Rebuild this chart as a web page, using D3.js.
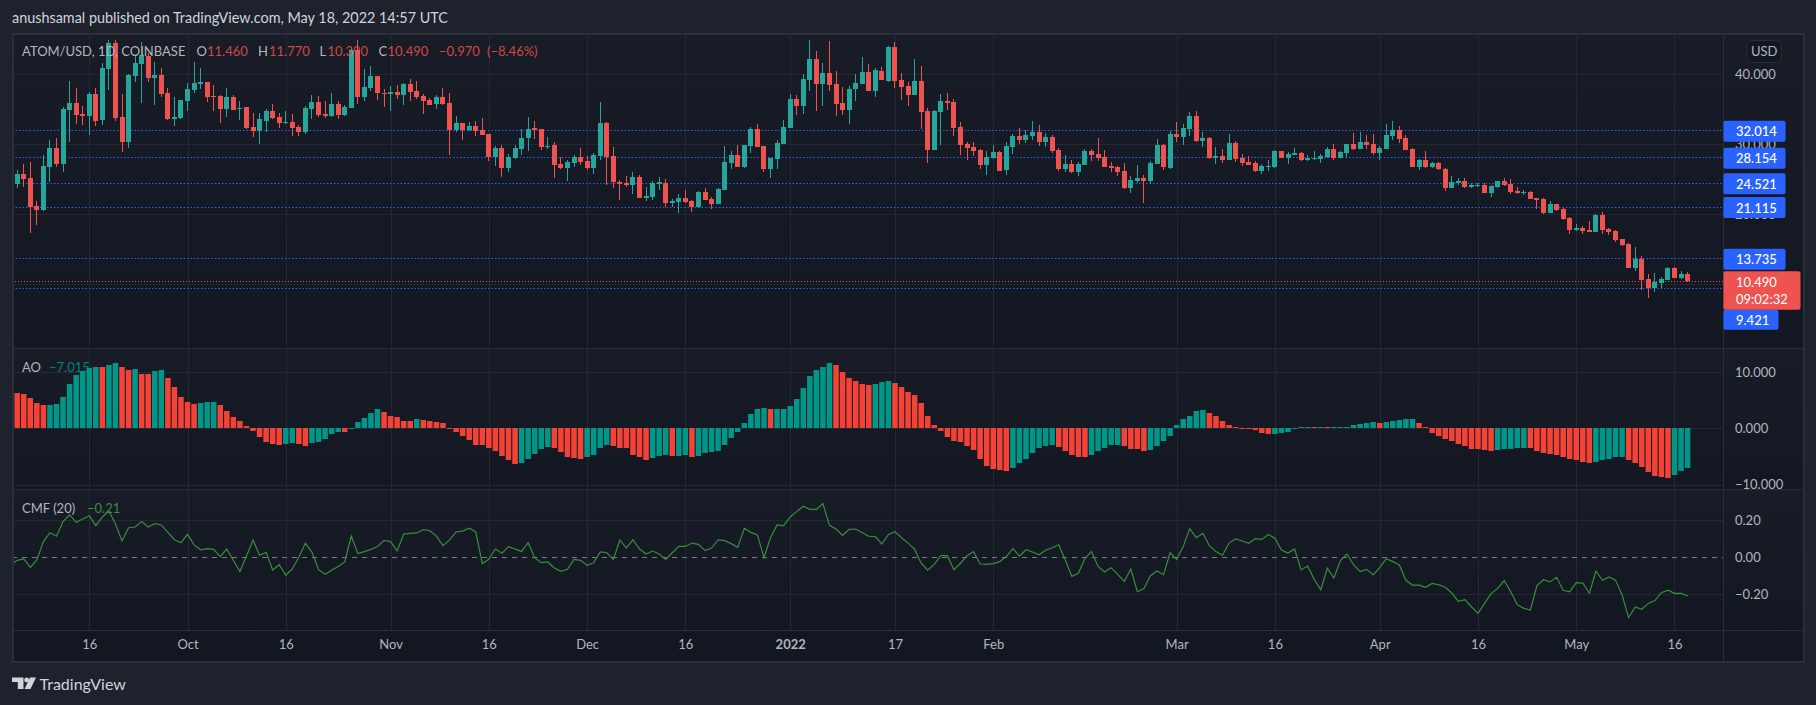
<!DOCTYPE html>
<html><head><meta charset="utf-8">
<script src="https://cdn.jsdelivr.net/npm/d3@7"></script>
<style>
html,body{margin:0;padding:0;background:#1e222d;overflow:hidden}
svg{display:block}
text{font-family:Lato,"Open Sans",sans-serif}
</style></head><body>
<div id="chart"></div>
<script>
const firstDay="2021-09-04";
const opens=[24.05,
24.33,25.76,25.19,21.19,20.62,26.76,29.48,27.19,34.9,35.9,
34.33,34.05,37.19,33.48,40.76,44.48,33.9,30.33,39.76,41.48,
42.57,39.48,39.9,37.33,33.62,33.76,36.19,37.76,38.62,38.9,
36.9,36.9,35.05,36.76,35.05,35.33,32.48,31.9,33.33,34.76,
33.9,33.05,33.19,32.48,31.76,35.05,36.05,34.33,34.05,35.76,
34.19,35.19,43.48,36.76,38.05,39.76,37.33,37.19,37.48,37.05,
38.62,37.62,36.9,36.33,35.76,36.76,35.9,32.05,33.05,32.05,
32.62,32.05,31.48,28.19,29.48,26.62,28.05,29.33,30.9,32.33,
32.19,29.62,29.9,27.19,26.62,27.33,28.19,27.62,26.62,28.33,
33.05,28.33,24.62,24.48,24.19,25.33,22.33,22.48,24.33,24.48,
21.62,21.76,22.33,21.9,21.05,23.19,22.19,21.48,23.48,27.33,
28.48,26.76,29.76,32.19,29.76,26.48,27.9,30.05,32.33,36.48,
35.48,39.19,42.19,38.62,40.19,38.62,35.9,34.9,37.9,38.62,
40.33,37.62,40.48,39.05,43.9,39.19,38.33,37.05,39.05,34.76,
29.19,34.62,36.19,36.05,32.48,30.05,29.62,29.19,27.05,28.05,
28.9,26.33,29.62,31.19,30.62,31.19,31.76,30.33,31.05,29.19,
26.48,27.19,26.05,27.05,29.05,28.62,28.19,26.9,26.76,26.19,
23.76,24.76,25.19,24.76,27.19,29.9,26.62,31.48,31.05,32.19,
34.05,30.48,30.9,28.05,28.33,27.76,30.19,28.05,27.48,27.33,
26.19,26.76,26.76,29.05,28.05,28.48,28.76,27.76,27.9,27.9,
28.19,29.33,28.05,28.76,30.05,29.33,30.33,30.05,28.76,29.33,
31.19,32.05,30.9,29.33,26.76,27.76,26.76,27.33,26.48,23.76,
24.48,24.76,23.9,24.09,24.19,23.04,23.9,24.76,24.33,23.33,
23.04,23.19,22.33,22.19,20.19,21.47,20.76,19.47,17.76,18.04,
17.76,17.47,19.9,17.9,17.62,16.47,15.76,12.33,13.62,10.76,
9.47,10.19,10.62,12.33,10.9,11.46];
const highs=[24.52,
26.33,27.14,27.48,21.9,28.48,30.57,30.9,35.33,39.05,38.05,
35.48,37.48,38.05,41.62,44.9,44.9,37.19,40.05,42.76,44.57,
43,41.76,40.9,38.05,36.76,36.33,38.76,41.76,40.9,38.9,
38.48,37.05,38.05,37.05,36.19,35.33,34.48,34.48,35.05,35.76,
34.48,34.76,34.33,32.76,35.48,37.05,36.9,36.19,37.33,36.19,
35.62,43.62,44.9,40.76,41.19,39.76,37.9,38.33,38.48,38.76,
39.33,39.05,37.19,36.62,37.05,38.05,37.33,34.05,33.05,33.19,
33.33,33.76,31.48,29.76,29.9,28.62,29.9,32.19,33.9,33.33,
32.19,31.05,30.33,28.19,27.76,28.48,29.48,28.33,28.76,36.05,
33.19,29.62,24.9,25.48,26.05,25.62,23.9,24.76,25.33,25.05,
22.19,22.9,23.48,22.05,23.33,23.76,22.48,23.76,29.76,29.05,
29.9,29.9,32.48,32.9,29.76,28.05,30.62,33.48,37.19,37.05,
40.05,44.9,43.33,41.62,44.76,40.48,38.19,38.33,40.05,42.48,
41.48,40.9,41.05,44.05,44.62,40.19,38.9,42.19,41.19,35.19,
34.9,37.19,37.33,36.48,33.19,30.33,30.33,29.33,29.05,29.9,
29.05,30.33,31.48,32.33,32.05,33.33,32.76,31.62,31.33,29.48,
28.48,27.76,27.48,29.33,29.33,30.9,29.19,27.48,26.9,27.33,
25.48,27.05,25.62,27.62,30.76,30.05,31.9,33.19,32.9,34.62,
34.76,31.76,31.05,29.62,29.33,31.48,30.48,28.62,28.33,27.62,
27.19,27.76,29.19,29.05,28.9,29.48,28.9,28.48,29.05,28.62,
29.62,30.05,29.05,30.05,31.62,31.76,31.33,31.48,29.76,32.9,
33.33,32.62,31.33,29.48,27.9,29.05,27.48,27.48,26.62,25.48,
25.19,25.19,24.48,24.48,24.48,24.19,24.76,25.19,25.04,23.9,
23.47,23.33,22.33,22.33,21.9,21.47,20.9,19.62,18.62,18.33,
19.04,20.04,20.33,18.04,17.76,16.47,15.9,15.33,14.04,11.47,
11.62,11.04,12.47,12.47,11.9,11.77];
const lows=[24.05,
23.81,23.91,17.33,18.48,20.52,24.62,26.76,26.05,30.33,32.9,
32.76,31.33,32.62,32.76,37.76,33.33,28.9,29.48,38.9,35.9,
38.9,35.62,36.76,33.48,32.62,33.62,34.76,37.33,37.9,36.05,
34.76,33.05,33.9,34.9,33.48,32.19,31.05,30.05,31.76,33.62,
32.33,32.9,31.19,31.19,31.48,33.62,33.9,33.76,33.9,33.62,
34.05,35.19,35.76,36.19,37.62,36.33,35.33,34.76,36.48,35.62,
36.19,36.48,34.33,35.62,35.05,35.62,28.48,31.76,30.62,31.9,
31.19,31.33,27.62,26.9,25.33,26.05,27.9,28.48,29.05,30.76,
29.19,29.33,25.19,26.48,24.76,26.76,27.05,26.33,25.76,27.76,
24.19,23.76,22.05,23.9,22.9,22.33,21.9,22.05,23.48,21.05,
21.05,20.19,21.62,20.33,20.9,22.05,20.76,21.48,23.48,26.48,
26.76,26.62,28.76,29.62,26.05,25.19,26.48,30.05,32.33,34.19,
34.33,37.62,34.76,35.48,37.62,34.05,34.19,32.9,36.19,38.62,
37.62,36.76,39.19,38.9,38.05,36.33,35.48,37.05,32.19,27.33,
29.19,29.9,34.9,31.19,28.48,27.76,28.33,26.48,25.62,27.9,
26.19,25.62,28.62,30.05,30.19,30.62,29.76,29.62,28.76,26.19,
26.05,25.9,25.48,27.05,27.62,27.62,26.76,26.05,25.48,23.62,
23.05,24.48,21.62,24.33,27.19,26.33,26.48,30.33,29.9,31.19,
30.33,29.62,27.9,27.19,27.33,27.76,27.48,26.9,27.05,26.05,
25.76,26.19,26.62,28.05,27.19,28.48,27.62,27.62,27.76,27.33,
28.05,27.76,28.05,28.05,29.19,29.33,29.33,28.48,27.76,29.33,
30.62,30.19,29.19,26.76,26.33,26.62,26.62,26.33,23.33,23.76,
24.19,23.76,23.76,23.9,23.04,22.47,23.76,24.04,22.9,22.9,
22.76,22.19,20.76,20.04,20.19,20.47,19.19,17.19,17.62,17.19,
17.47,17.47,17.19,17.04,16.04,15.47,12.33,11.9,9.19,8.04,
8.9,9.47,10.62,10.9,10.76,10.39];
const closes=[24.52,
25.76,25.05,21.05,20.62,26.9,29.48,27.19,35.05,35.9,34.19,
34.05,37.19,33.33,40.9,44.48,33.76,30.33,39.9,41.62,42.76,
39.48,39.9,37.19,33.62,33.9,36.33,37.9,38.76,38.9,36.76,
36.76,35.05,36.76,34.9,35.19,32.33,31.9,33.62,34.76,33.76,
33.05,33.19,32.33,31.76,35.19,36.05,34.19,34.05,35.76,34.19,
35.33,43.48,36.76,38.19,39.76,37.33,37.19,37.48,37.05,38.62,
37.48,36.76,36.19,35.62,36.76,35.76,32.05,33.05,32.05,32.62,
31.9,31.33,28.19,29.48,26.62,28.19,29.48,30.9,32.19,32.05,
29.62,29.76,27.05,26.62,27.48,28.19,27.48,26.62,28.48,33.05,
28.19,24.62,24.33,24.19,25.33,22.33,22.62,24.48,24.62,21.62,
21.9,22.33,21.76,21.05,23.19,22.05,21.48,23.62,27.48,28.48,
26.76,29.9,32.19,29.62,26.48,28.05,30.19,32.48,36.48,35.48,
39.33,42.19,38.62,40.19,38.48,35.76,34.9,37.9,38.76,40.33,
37.62,40.62,39.19,43.9,39.05,38.19,37.05,39.05,34.62,29.19,
34.76,36.19,35.9,32.33,29.9,29.48,29.05,27.05,28.19,28.9,
26.19,29.76,31.19,30.62,31.33,31.76,30.33,31.05,29.05,26.48,
27.19,26.05,27.19,29.05,28.48,28.05,26.76,26.62,26.05,23.76,
24.9,25.19,24.76,27.33,29.9,26.76,31.48,31.05,32.33,34.05,
30.48,30.9,28.05,28.33,27.76,30.19,27.9,27.33,27.05,26.19,
26.9,26.9,29.05,28.05,28.62,28.76,27.76,28.05,28.05,28.33,
29.33,28.05,28.9,30.05,29.33,30.33,29.9,28.76,29.48,31.33,
32.05,30.76,29.19,26.76,27.76,26.76,27.33,26.48,23.76,24.62,
24.76,23.9,24.19,24.23,23.04,24.04,24.76,24.19,23.19,23.04,
23.19,22.19,22.04,20.19,21.47,20.62,19.33,17.76,18.04,17.62,
17.47,19.9,17.76,17.47,16.33,15.62,12.33,13.62,10.62,9.47,
10.33,10.76,12.33,10.9,11.47,10.49];
const aoValues=[6.2,
6.27,6.09,5.38,4.5,4.14,4.14,4.32,5.56,7.87,9.47,
10.18,10.71,10.89,10.89,11.24,11.6,10.89,10.36,10.53,9.64,
9.64,10.18,10.36,8.93,7.34,5.56,4.67,4.32,4.5,4.67,
4.67,4.14,3.08,2.01,1.3,0.41,-0.47,-1.54,-2.43,-2.78,
-2.96,-2.78,-2.6,-2.78,-3.14,-2.6,-2.43,-1.89,-1.01,-0.65,
-0.65,-0.06,1.12,1.83,2.72,3.43,2.9,2.19,2.01,1.3,
1.3,1.66,1.48,1.3,1.12,0.95,0.06,-0.65,-1.36,-2.07,
-2.96,-2.96,-3.49,-4.02,-4.91,-5.62,-6.33,-6.15,-5.44,-4.56,
-3.67,-3.31,-3.49,-4.2,-5.09,-5.27,-5.44,-5.09,-4.73,-3.49,
-2.96,-3.14,-3.49,-3.49,-4.73,-5.09,-5.62,-5.27,-4.91,-4.73,
-4.91,-4.91,-4.73,-5.09,-4.91,-4.38,-4.2,-4.02,-2.96,-1.72,
-0.65,0.95,2.54,3.43,3.61,3.43,3.43,3.43,3.96,5.21,
7.16,9.29,10.36,10.89,11.6,11.24,10,8.93,8.4,7.87,
7.69,7.87,8.22,8.4,8.05,7.34,6.45,5.92,4.5,2.19,
0.59,-0.47,-1.54,-2.25,-2.43,-3.14,-3.85,-5.44,-6.69,-7.22,
-7.4,-7.57,-7.04,-6.15,-5.44,-4.38,-3.49,-3.14,-2.96,-3.31,
-4.02,-4.73,-5.09,-5.09,-4.73,-4.02,-3.49,-2.96,-2.96,-3.14,
-3.67,-3.67,-4.02,-3.85,-3.14,-2.25,-1.36,0.59,1.66,2.19,
3.08,3.25,2.72,2.19,1.3,0.59,0.24,0.06,0.05,-0.3,
-0.83,-1,-1,-0.83,-0.65,0.06,0.24,0.24,0.24,0.24,
0.24,0.24,0.24,0.24,0.59,0.77,0.95,1.12,0.95,1.12,
1.3,1.48,1.66,1.66,0.95,0.24,-0.83,-1.36,-1.89,-2.25,
-2.78,-3.14,-3.67,-3.67,-3.85,-4.02,-3.85,-3.67,-3.67,-3.49,
-3.49,-3.49,-4.02,-4.38,-4.56,-4.73,-5.09,-5.44,-5.62,-5.98,
-6.15,-5.98,-5.62,-5.44,-5.09,-5.09,-5.62,-6.15,-6.86,-7.75,
-8.46,-8.64,-8.82,-8.28,-7.57,-7.015];
const aoDirections=("R"+
"RRRRRGGGGG"+"GGGRGGRRGR"+"RGGRRRRRGG"+"GRRRRRRRRR"+"RGGRRGGGGG"+
"RGGGGGRRRR"+"RGRRRRRRRR"+"RRRRRRRGGG"+"GGRRRRRGGG"+"GRRRRRRGGG"+
"RGGRGGGGGG"+"GGGGGRGGGG"+"GGGGGRRRRR"+"RGGGRRRRRR"+"RRRRRRRRRR"+
"RRGGGGGGGR"+"RRRRGGGGGR"+"RRRGGGGGGG"+"GGRRRRRRRR"+"RRGGGGGGRG"+
"RGGGGGGGRG"+"GGGGRRRRRR"+"RRRRRRGGGG"+"GRRRRRRRRR"+"RGGGGGRRRR"+"RRRGGG").split("");
const cmfValues=[-0.041,
-0.016,-0.009,-0.054,-0.014,0.085,0.133,0.114,0.193,0.229,0.189,
0.207,0.225,0.171,0.218,0.25,0.18,0.088,0.16,0.164,0.193,
0.164,0.182,0.175,0.135,0.095,0.079,0.124,0.067,0.041,0.047,
0.043,0.004,0.045,-0.016,-0.077,0.007,0.094,0.011,0.027,-0.068,
-0.04,-0.097,-0.063,0.002,0.077,0.027,-0.067,-0.092,-0.07,-0.05,
-0.025,0.115,0.02,0.031,0.043,0.058,0.092,0.085,0.034,0.126,
0.13,0.132,0.15,0.144,0.115,0.063,0.094,0.137,0.142,0.157,
0.137,-0.034,-0.009,0.045,0.022,0.058,0.045,0.032,0.079,-0.002,
-0.029,-0.025,-0.058,-0.076,-0.065,-0.011,-0.016,-0.043,-0.029,0.029,
0.025,-0.011,0.094,0.05,0.095,0.045,0.018,0.034,0.018,-0.011,
0.025,0.059,0.059,0.077,0.07,0.036,0.05,0.094,0.09,0.074,
0.054,0.157,0.135,0.121,-0.002,0.106,0.175,0.171,0.218,0.247,
0.276,0.259,0.259,0.29,0.173,0.153,0.119,0.151,0.153,0.133,
0.114,0.112,0.072,0.124,0.139,0.106,0.077,0.043,-0.032,-0.07,
-0.038,0.009,0.009,-0.067,-0.032,0.009,0.031,-0.036,-0.038,-0.034,
-0.023,0.004,0.047,0.007,0.041,0.029,0.014,0.038,0.052,0.068,
-0.014,-0.103,-0.086,-0.005,0.031,-0.049,-0.079,-0.056,-0.092,-0.13,
-0.063,-0.186,-0.169,-0.099,-0.074,-0.094,0.025,-0.011,0.058,0.155,
0.106,0.13,0.063,0.031,0.011,0.077,0.099,0.088,0.076,0.101,
0.097,0.123,0.103,0.04,0.023,0.045,-0.068,-0.047,-0.119,-0.175,
-0.059,-0.112,-0.018,0.018,-0.04,-0.077,-0.065,-0.095,-0.056,-0.007,
-0.023,-0.041,-0.124,-0.15,-0.15,-0.162,-0.141,-0.148,-0.162,-0.193,
-0.238,-0.229,-0.267,-0.303,-0.249,-0.196,-0.168,-0.126,-0.186,-0.256,
-0.276,-0.285,-0.153,-0.121,-0.133,-0.108,-0.178,-0.186,-0.137,-0.139,
-0.195,-0.074,-0.124,-0.106,-0.123,-0.204,-0.326,-0.268,-0.281,-0.249,
-0.234,-0.191,-0.178,-0.195,-0.195,-0.209];
const priceTicks=[40,30,20,10];
const aoTicks=[10,0,-10];
const cmfTicks=[0.2,-0.2];
const cmfLabels=[0.2,0,-0.2];
const levelValues=[32.014,28.154,24.521,21.115,13.735,9.421];
const timeTickDates=["2021-09-16","2021-10-01","2021-10-16","2021-11-01","2021-11-16","2021-12-01","2021-12-16","2022-01-01","2022-01-17","2022-02-01","2022-03-01","2022-03-16","2022-04-01","2022-04-16","2022-05-01","2022-05-16"];
const timeTickLabels=["16","Oct","16","Nov","16","Dec","16","2022","17","Feb","Mar","16","Apr","16","May","16"];
const lastPrice=10.49, countdown="09:02:32";
const headline="anushsamal published on TradingView.com, May 18, 2022 14:57 UTC";
const legendName="ATOM/USD, 1D, COINBASE";
const legendItems=[["O","11.460"],["H","11.770"],["L","10.390"],["C","10.490"]];

const W=1816,H=705;
const L={left:12,top:33,right:1804,bottom:662,axisX:1723.5,p1:348,p2:489,p3:630};
const C={bg:"#1e222d",pane:"#131722",border:"#2a2e39",grid:"#242833",text:"#b2b5be",up:"#26a69a",down:"#ef5350",aoUp:"#009688",aoDown:"#f44336",blue:"#2962ff",cmf:"#388e3c"};
const parse=d3.utcParse("%Y-%m-%d");
const start=parse(firstDay);
const dates=opens.map((_,i)=>d3.utcDay.offset(start,i));
const x=d3.scaleUtc().domain([parse("2021-09-05"),parse("2022-05-18")]).range([17.2,1687.6]);
const yP=d3.scaleLinear().domain([40,10]).range([74.34,284.34]);
const yA=d3.scaleLinear().domain([10,-10]).range([372,484.67]);
const yC=d3.scaleLinear().domain([0.2,-0.2]).range([520.33,594.33]);

const svg=d3.select("#chart").append("svg").attr("width",W).attr("height",H);
const defs=svg.append("defs");
const grad=defs.append("linearGradient").attr("id","paneGrad").attr("x1",0).attr("x2",0).attr("y1",0).attr("y2",1);
grad.append("stop").attr("offset",0).attr("stop-color","#181c27");
grad.append("stop").attr("offset",1).attr("stop-color","#131722");
function clip(id,x0,y0,x1,y1){defs.append("clipPath").attr("id",id).append("rect").attr("x",x0).attr("y",y0).attr("width",x1-x0).attr("height",y1-y0);}
clip("cP",L.left+1,L.top+1,L.axisX,L.p1);
clip("cA",L.left+1,L.p1,L.axisX,L.p2);
clip("cC",L.left+1,L.p2,L.axisX,L.p3);
clip("aP",L.axisX,L.top+1,L.right,L.p1);
clip("aA",L.axisX,L.p1,L.right,L.p2);
clip("aC",L.axisX,L.p2,L.right,L.p3);

svg.append("rect").attr("width",W).attr("height",H).attr("fill",C.bg);
svg.append("text").attr("x",12).attr("y",23).attr("fill","#d1d4dc").attr("font-size",14.4).text(headline);
svg.append("rect").attr("x",L.left).attr("y",L.top).attr("width",L.right-L.left).attr("height",L.bottom-L.top).attr("fill",C.pane);
[[L.top,L.p1],[L.p1,L.p2],[L.p2,L.p3]].forEach(([a,b])=>{
  svg.append("rect").attr("x",L.left).attr("y",a).attr("width",L.right-L.left).attr("height",b-a).attr("fill","url(#paneGrad)");
});

const crisp=g=>g.attr("shape-rendering","crispEdges");
const tickDates=timeTickDates.map(parse);
function clipped(id){return svg.append("g").attr("clip-path",`url(#${id})`);}
function vgrid(id,y0,y1){
  const g=clipped(id).append("g").attr("transform",`translate(0,${y1})`).call(d3.axisBottom(x).tickValues(tickDates).tickSize(y0-y1).tickFormat(""));
  g.select(".domain").remove();
  g.selectAll("line").attr("stroke",C.grid);
  crisp(g);
}
function hgrid(id,scale,ticks){
  const g=clipped(id).append("g").attr("transform",`translate(${L.left},0)`).call(d3.axisRight(scale).tickValues(ticks).tickSize(L.axisX-L.left).tickFormat(""));
  g.select(".domain").remove();
  g.selectAll("line").attr("stroke",C.grid);
  crisp(g);
}
vgrid("cP",L.top,L.p1);vgrid("cA",L.p1,L.p2);vgrid("cC",L.p2,L.p3);
hgrid("cP",yP,priceTicks);hgrid("cA",yA,aoTicks);hgrid("cC",yC,cmfTicks);

// horizontal rays
const rays=clipped("cP");
rays.selectAll("line.lvl").data(levelValues).join("line").attr("class","lvl")
  .attr("x1",L.left).attr("x2",L.axisX).attr("y1",d=>Math.round(yP(d))+.5).attr("y2",d=>Math.round(yP(d))+.5)
  .attr("stroke",C.blue).attr("stroke-width",1).attr("stroke-dasharray","1.5 2");
rays.append("line").attr("x1",L.left).attr("x2",L.axisX).attr("y1",Math.round(yP(lastPrice))+.5).attr("y2",Math.round(yP(lastPrice))+.5)
  .attr("stroke",C.down).attr("stroke-width",1).attr("stroke-dasharray","1 2");

// candles
const idx=d3.range(opens.length);
const cx=i=>Math.floor(x(dates[i]));
const colr=i=>closes[i]>=opens[i]?C.up:C.down;
const candles=clipped("cP").call(crisp);
candles.selectAll("rect.w").data(idx).join("rect").attr("class","w")
  .attr("x",cx).attr("width",1)
  .attr("y",i=>Math.round(yP(highs[i]))).attr("height",i=>Math.max(1,Math.round(yP(lows[i]))-Math.round(yP(highs[i]))))
  .attr("fill",colr);
candles.selectAll("rect.b").data(idx).join("rect").attr("class","b")
  .attr("x",i=>cx(i)-2).attr("width",5)
  .attr("y",i=>Math.round(yP(Math.max(opens[i],closes[i]))))
  .attr("height",i=>Math.max(1,Math.round(yP(Math.min(opens[i],closes[i])))-Math.round(yP(Math.max(opens[i],closes[i])))))
  .attr("fill",colr);

// AO
const aoG=clipped("cA");
aoG.selectAll("rect").data(idx).join("rect")
  .attr("x",i=>x(dates[i])-2.75).attr("width",5.5)
  .attr("y",i=>Math.round(Math.min(yA(aoValues[i]),yA(0))))
  .attr("height",i=>Math.max(1,Math.round(Math.abs(yA(aoValues[i])-yA(0)))))
  .attr("fill",i=>aoDirections[i]==="G"?C.aoUp:C.aoDown);

// CMF
const cmfG=clipped("cC");
cmfG.append("line").attr("x1",L.left).attr("x2",L.axisX).attr("y1",Math.round(yC(0))+.5).attr("y2",Math.round(yC(0))+.5)
  .attr("stroke","#787b86").attr("stroke-dasharray","5 5");
cmfG.append("path").datum(idx).attr("fill","none").attr("stroke",C.cmf).attr("stroke-width",1.2)
  .attr("d",d3.line().x(i=>x(dates[i])).y(i=>yC(cmfValues[i])));

// frame and separators
const frame=svg.append("g").call(crisp);
frame.append("rect").attr("x",L.left+.5).attr("y",L.top+.5).attr("width",L.right-L.left-1).attr("height",L.bottom-L.top-1).attr("fill","none").attr("stroke",C.border).attr("stroke-width",2);
[L.p1,L.p2,L.p3].forEach(y=>frame.append("line").attr("x1",L.left).attr("x2",L.right).attr("y1",y+.5).attr("y2",y+.5).attr("stroke",C.border));
frame.append("line").attr("x1",L.axisX).attr("x2",L.axisX).attr("y1",L.top).attr("y2",L.bottom).attr("stroke",C.border);

// axes
const FS=13, LFS=13;
function rightAxis(id,scale,ticks,fmt){
  const g=clipped(id).append("g").attr("transform","translate(1735,0)").call(d3.axisRight(scale).tickValues(ticks).tickSize(0).tickPadding(0).tickFormat(fmt));
  g.select(".domain").remove();
  g.selectAll("line").remove();
  g.selectAll("text").attr("fill",C.text).attr("font-size",FS).attr("font-family","Lato");
}
rightAxis("aP",yP,priceTicks,d3.format(".3f"));
rightAxis("aA",yA,aoTicks,d3.format(".3f"));
rightAxis("aC",yC,cmfLabels,d3.format(".2f"));

const xAx=svg.append("g").attr("transform",`translate(0,${L.p3})`).call(d3.axisBottom(x).tickValues(tickDates).tickSize(0).tickPadding(10).tickFormat((d,i)=>timeTickLabels[i]));
xAx.select(".domain").remove();
xAx.selectAll("line").remove();
xAx.selectAll("text").attr("fill",C.text).attr("font-size",FS).attr("font-family","Lato").attr("font-weight",(d,i)=>timeTickLabels[i]==="2022"?700:400);

// labels on price axis
const labels=svg.append("g");
const redTop=yP(lastPrice)-9.6, redH=38.4;
levelValues.forEach(v=>{
  const below=v<lastPrice;
  const y0=below?redTop+redH:yP(v)-9.5;
  const w=below?55:62, h=below?20:21;
  labels.append("rect").attr("x",L.axisX).attr("y",y0).attr("width",w).attr("height",h).attr("rx",2).attr("fill",C.blue);
  labels.append("text").attr("x",1736).attr("y",y0+h/2+5).attr("fill","#fff").attr("font-size",FS).attr("font-weight",500).text(d3.format(".3f")(v));
});
labels.append("rect").attr("x",L.axisX).attr("y",redTop).attr("width",77).attr("height",redH).attr("rx",2).attr("fill",C.down);
labels.append("text").attr("x",1736).attr("y",redTop+16).attr("fill","#fff").attr("font-size",FS).text(d3.format(".3f")(lastPrice));
labels.append("text").attr("x",1736).attr("y",redTop+33).attr("fill","#fff").attr("font-size",FS).text(countdown);

// USD
labels.append("rect").attr("x",1747).attr("y",40.5).attr("width",34.5).attr("height",22).attr("rx",5).attr("fill",C.pane).attr("stroke",C.border);
labels.append("text").attr("x",1764.2).attr("y",56).attr("text-anchor","middle").attr("fill",C.text).attr("font-size",FS).text("USD");

// legends
const lg=svg.append("g").attr("font-size",LFS);
lg.append("text").attr("x",22).attr("y",56).attr("fill",C.text).text(legendName);
const legendX=[[196.5,207],[258,269],[319.5,327.4],[378.4,387.5]];
legendItems.forEach(([k,v],i)=>{
  lg.append("text").attr("x",legendX[i][0]).attr("y",56).attr("fill",C.text).text(k);
  lg.append("text").attr("x",legendX[i][1]).attr("y",56).attr("fill",C.down).attr("fill-opacity",.85).text(v);
});
lg.append("text").attr("x",439).attr("y",56).attr("fill",C.down).attr("fill-opacity",.85).text(d3.format(".3f")(closes[closes.length-1]-opens[opens.length-1]));
lg.append("text").attr("x",487).attr("y",56).attr("fill",C.down).attr("fill-opacity",.85).text("(−8.46%)");
lg.append("text").attr("x",22).attr("y",372).attr("fill",C.text).text("AO");
lg.append("text").attr("x",49).attr("y",372).attr("fill",C.aoUp).attr("fill-opacity",.85).text(d3.format(".3f")(aoValues[aoValues.length-1]));
lg.append("text").attr("x",22).attr("y",513).attr("fill",C.text).text("CMF (20)");
lg.append("text").attr("x",87).attr("y",513).attr("fill",C.cmf).text(d3.format(".2f")(cmfValues[cmfValues.length-1]));

// logo
const logo=svg.append("g").attr("fill","#d1d4dc");
logo.append("path").attr("d","M12 677.5H23.5V689H17.8V682H12Z");
logo.append("circle").attr("cx",26.6).attr("cy",680).attr("r",2.4);
logo.append("path").attr("d","M30 677.5H36L30.5 689H24.5Z");
logo.append("text").attr("x",39.5).attr("y",690).attr("font-size",16).attr("fill","#d1d4dc").text("TradingView");
</script>
</body></html>
